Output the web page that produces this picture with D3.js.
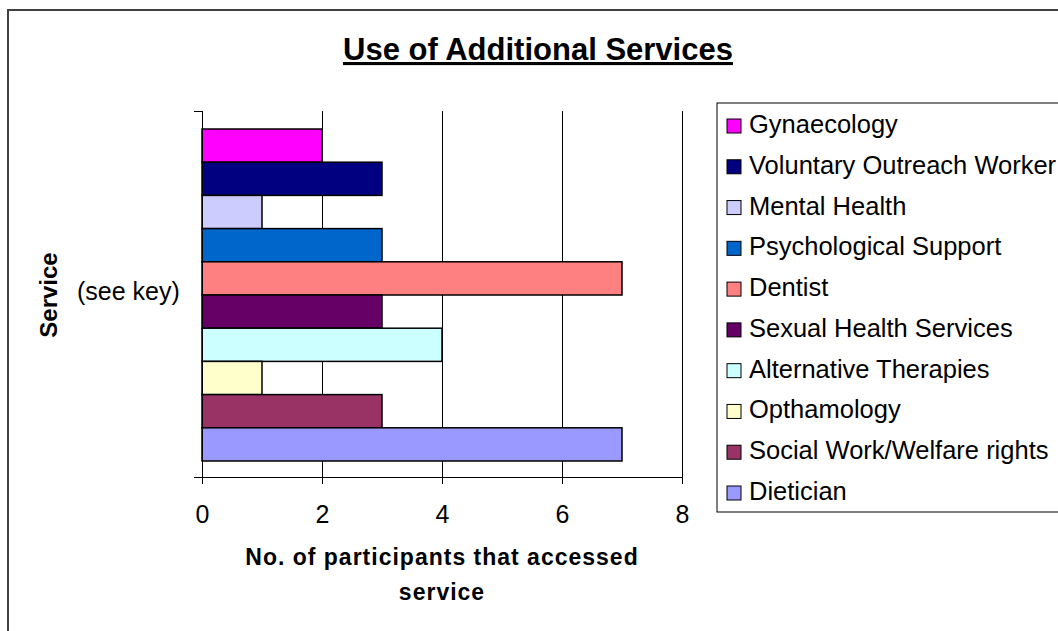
<!DOCTYPE html>
<html>
<head>
<meta charset="utf-8">
<script src="https://cdn.jsdelivr.net/npm/d3@7"></script>
<style>
  body { margin: 0; background: #fff; }
  svg { display: block; font-family: "Liberation Sans", Arial, sans-serif; }
</style>
</head>
<body>
<script>
const services = [
  "Gynaecology",
  "Voluntary Outreach Worker",
  "Mental Health",
  "Psychological Support",
  "Dentist",
  "Sexual Health Services",
  "Alternative Therapies",
  "Opthamology",
  "Social Work/Welfare rights",
  "Dietician"
]
const counts = [2, 3, 1, 3, 7, 3, 4, 1, 3, 7]
const colours = [
  "#ff00ff", "#000080", "#ccccff", "#0066cc", "#ff8080",
  "#660066", "#ccffff", "#ffffcc", "#993366", "#9999ff"
]
const xTicks = [0, 2, 4, 6, 8]

const width = 1058, height = 631

const svg = d3.select("body").append("svg")
  .attr("width", width)
  .attr("height", height)

/* outer chart frame */
svg.append("path")
  .attr("d", `M8,${height + 5} V10 H${width + 5}`)
  .attr("fill", "none")
  .attr("stroke", "#404040")
  .attr("stroke-width", 2)

/* title */
svg.append("text")
  .attr("x", 538)
  .attr("y", 60)
  .attr("text-anchor", "middle")
  .attr("font-size", 31)
  .attr("font-weight", "bold")
  .attr("text-decoration", "underline")
  .text("Use of Additional Services")

const plot = { left: 202, right: 682, top: 111, bottom: 477 }

const x = d3.scaleLinear().domain([0, 8]).range([plot.left, plot.right])
const y = d3.scaleBand().domain(services).range([129, 461]).padding(0)

/* gridlines */
svg.append("g")
  .selectAll("line")
  .data(xTicks.slice(1))
  .join("line")
  .attr("x1", d => x(d)).attr("x2", d => x(d))
  .attr("y1", plot.top).attr("y2", plot.bottom)
  .attr("stroke", "#000")
  .attr("stroke-width", 1)
  .attr("shape-rendering", "crispEdges")

/* bars */
svg.append("g")
  .selectAll("rect")
  .data(services)
  .join("rect")
  .attr("x", x(0))
  .attr("y", d => y(d))
  .attr("width", (d, i) => x(counts[i]) - x(0))
  .attr("height", y.bandwidth())
  .attr("fill", (d, i) => colours[i])
  .attr("stroke", "#000")
  .attr("stroke-width", 1.5)

/* y axis (single category) */
svg.append("path")
  .attr("d", `M${plot.left - 8},${plot.top} H${plot.left} V${plot.bottom}`)
  .attr("fill", "none")
  .attr("stroke", "#000")
  .attr("shape-rendering", "crispEdges")

/* x axis */
const xAxis = svg.append("g")
  .attr("transform", `translate(0,${plot.bottom})`)
  .call(d3.axisBottom(x).tickValues(xTicks).tickSize(7).tickPadding(21).tickSizeOuter(0))
xAxis.select(".domain").remove()
xAxis.append("line")
  .attr("x1", plot.left - 8).attr("x2", plot.right)
  .attr("stroke", "#000")
  .attr("shape-rendering", "crispEdges")
xAxis.selectAll("text")
  .attr("font-size", 25)
  .attr("font-family", "Liberation Sans, Arial, sans-serif")
  .attr("fill", "#000")
xAxis.selectAll(".tick line").attr("stroke", "#000").attr("shape-rendering", "crispEdges")

svg.append("text")
  .attr("x", 77)
  .attr("y", 300)
  .attr("font-size", 25)
  .text("(see key)")

/* axis titles */
svg.append("text")
  .attr("text-anchor", "middle")
  .attr("font-size", 23)
  .attr("font-weight", "bold")
  .attr("letter-spacing", 1)
  .selectAll("tspan")
  .data(["No. of participants that accessed", "service"])
  .join("tspan")
  .attr("x", 442)
  .attr("y", (d, i) => 565 + i * 35)
  .text(d => d)

svg.append("text")
  .attr("transform", "translate(57,295) rotate(-90)")
  .attr("text-anchor", "middle")
  .attr("font-size", 24)
  .attr("font-weight", "bold")
  .text("Service")

/* legend */
const legend = svg.append("g")
legend.append("rect")
  .attr("x", 717).attr("y", 103)
  .attr("width", 400).attr("height", 409)
  .attr("fill", "#fff")
  .attr("stroke", "#000")
  .attr("stroke-width", 1)

const ly = d3.scalePoint().domain(services).range([126, 493])
const item = legend.selectAll("g.item")
  .data(services)
  .join("g")
  .attr("class", "item")
  .attr("transform", d => `translate(727,${ly(d)})`)
item.append("rect")
  .attr("x", 0).attr("y", -7)
  .attr("width", 14).attr("height", 14)
  .attr("fill", (d, i) => colours[i])
  .attr("stroke", "#000")
  .attr("stroke-width", 1)
item.append("text")
  .attr("x", 22)
  .attr("y", 7)
  .attr("font-size", 25.5)
  .text(d => d)
</script>
</body>
</html>
